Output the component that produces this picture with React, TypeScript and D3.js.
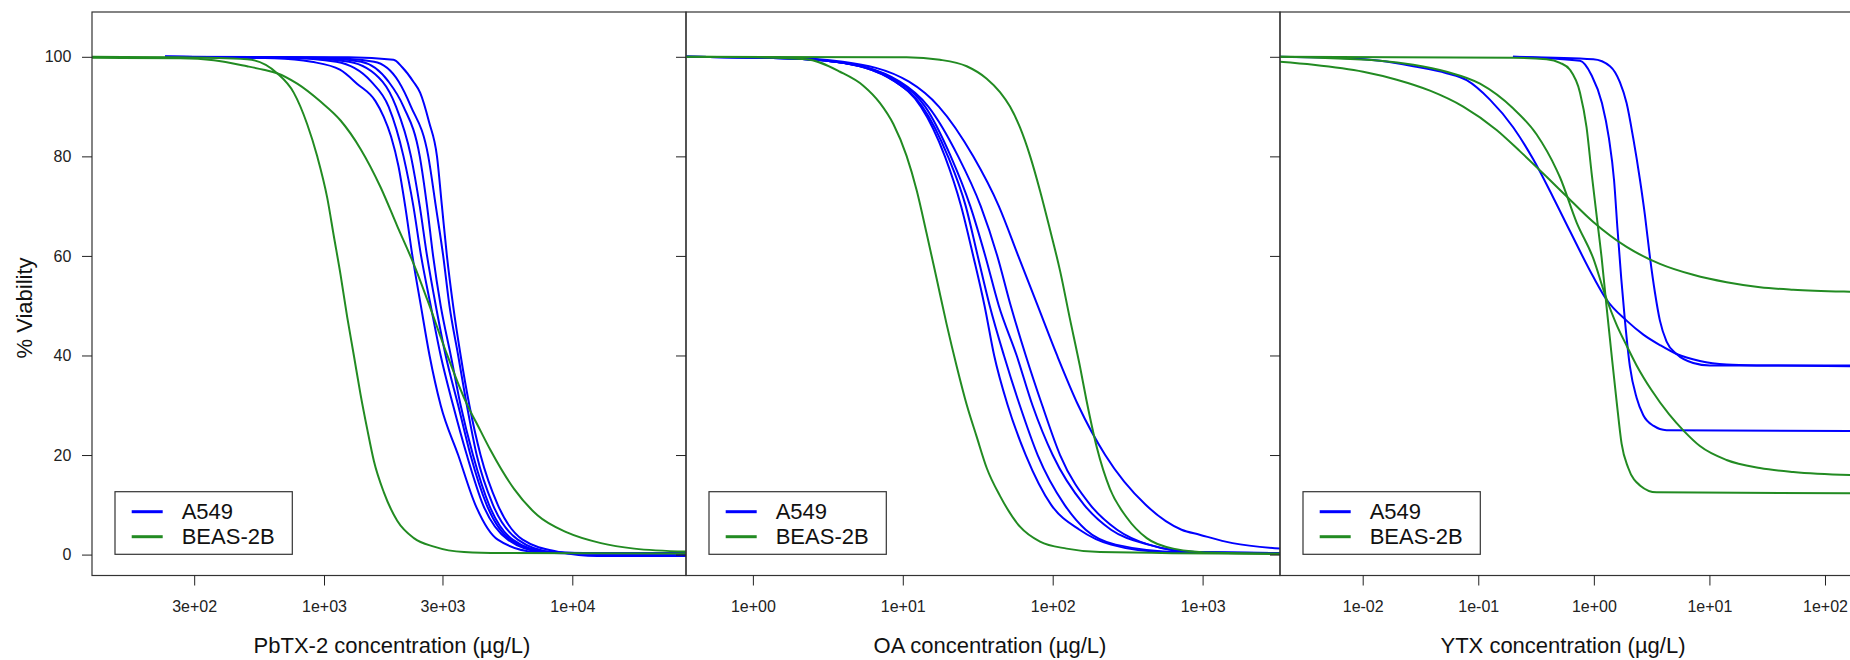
import React, { useRef, useEffect } from "react";
import * as d3 from "d3";

type Pt = [number, number];

const cellLines = ["A549", "BEAS-2B"];
const lineColors = ["#0000ff", "#228b22"];
const viabilityTicks = [0, 20, 40, 60, 80, 100];

// PbTX-2
const pbtxTitle = "PbTX-2 concentration (µg/L)";
const pbtxRange = [116.3, 28700];
const pbtxTicks = [300, 1000, 3000, 10000];
const pbtxTickLabels = ["3e+02", "1e+03", "3e+03", "1e+04"];
const pbtxA549: Pt[][] = [
  [[229, 100], [631, 99.7], [891, 99], [1159, 97.4], [1365, 94.5], [1611, 91.1], [1738, 88], [1862, 84], [1995, 78], [2123, 70], [2270, 60], [2455, 50], [2661, 40], [2950, 30], [3470, 20], [4070, 10], [5010, 3], [7080, 0.5], [10000, 0.2], [28700, 0.2]],
  [[229, 100], [708, 99.8], [1120, 99], [1550, 95], [1820, 90], [2090, 80], [2290, 70], [2460, 60], [2690, 50], [2950, 40], [3310, 30], [3760, 20], [4370, 10], [5500, 3], [7590, 0.5], [11200, 0.2], [28700, 0.2]],
  [[229, 100], [794, 99.8], [1260, 99], [1720, 95], [1950, 90], [2240, 80], [2430, 70], [2600, 60], [2820, 50], [3090, 40], [3470, 30], [3890, 20], [4520, 10], [5620, 3], [7760, 0.5], [11200, 0.3], [28700, 0.3]],
  [[229, 100], [891, 99.8], [1410, 99], [1820, 95], [2090, 90], [2430, 80], [2600, 70], [2750, 60], [2950, 50], [3240, 40], [3550, 30], [3980, 20], [4620, 10], [5750, 3], [7940, 0.5], [11200, 0.2], [28700, 0.2]],
  [[229, 100], [1000, 99.8], [1590, 99], [2000, 95], [2240, 90], [2630, 80], [2820, 70], [3020, 60], [3200, 50], [3470, 40], [3760, 30], [4120, 20], [4790, 10], [6030, 3], [8320, 0.5], [12600, 0.2], [28700, 0.2]],
  [[229, 100], [1260, 99.9], [1905, 99.4], [2065, 97.9], [2291, 95], [2438, 92.8], [2649, 86.9], [2851, 80], [2985, 70], [3126, 60], [3311, 50], [3550, 40], [3850, 30], [4270, 20], [5010, 10], [6310, 3], [8910, 0.5], [12600, -0.3], [28700, -0.3]],
];
const pbtxBeas: Pt[][] = [
  [[116.3, 100], [264, 99.9], [490, 99.5], [647, 96.7], [755, 92.8], [855, 86.5], [939, 80], [1030, 71.7], [1096, 63.9], [1166, 56.2], [1240, 47.7], [1319, 40], [1403, 32.2], [1493, 25.2], [1588, 18.8], [1742, 12.5], [1972, 6.8], [2301, 3.3], [2772, 1.6], [3664, 0.5], [5150, 0.3], [28700, 0.2]],
  [[116.3, 99.8], [264, 99.7], [360, 99.3], [490, 98.1], [571, 97.4], [647, 96.7], [780, 94.6], [968, 91], [1166, 87.2], [1403, 81.5], [1690, 73.8], [1972, 66], [2301, 58.3], [2606, 51.2], [3139, 40], [3664, 31.5], [4275, 24.8], [4692, 20.9], [5825, 13.2], [7240, 7.9], [9566, 4.4], [13040, 2.3], [17750, 1.2], [28700, 0.6]],
];

// OA
const oaTitle = "OA concentration (µg/L)";
const oaRange = [0.358, 3283];
const oaTicks = [1, 10, 100, 1000];
const oaTickLabels = ["1e+00", "1e+01", "1e+02", "1e+03"];
const oaA549: Pt[][] = [
  [[0.358, 100], [1.585, 99.7], [3.55, 99], [8.91, 95], [13.2, 90], [19.1, 80], [24.5, 70], [29.5, 60], [35.1, 50], [40.7, 40], [50.1, 30], [66.1, 20], [97.7, 10], [151, 5], [245, 2], [562, 0.5], [3283, 0.3]],
  [[0.358, 100], [1.585, 99.7], [3.55, 99], [8.91, 95], [13.5, 90], [20, 80], [26.3, 70], [31.6, 60], [38, 50], [47.3, 40], [60.3, 30], [79.4, 20], [120, 10], [166, 5], [263, 2], [708, 0.5], [3283, 0.3]],
  [[0.358, 100], [1.585, 99.7], [3.55, 99], [9.33, 95], [14.1, 90], [20.9, 80], [28.2, 70], [35.5, 60], [43.7, 50], [57.5, 40], [73.3, 30], [100, 20], [162, 10], [245, 5], [437, 2], [891, 0.5], [3283, 0.3]],
  [[0.358, 100], [1.585, 99.7], [3.55, 99], [9.55, 95], [14.8, 90], [23.4, 80], [33.1, 70], [42.7, 60], [52.5, 50], [66.1, 40], [85.1, 30], [112, 20], [178, 10], [269, 5], [437, 2], [891, 0.5], [3283, 0.3]],
  [[0.358, 100], [1.585, 99.8], [3.98, 99], [11, 95], [17.4, 90], [29.5, 80], [43.7, 70], [58.9, 60], [79.4, 50], [107, 40], [148, 30], [224, 20], [417, 10], [724, 5], [955, 4], [1585, 2.3], [3283, 1.2]],
];
const oaBeas: Pt[][] = [
  [[0.358, 100], [1, 99.9], [2.28, 99.5], [3.81, 97], [5.45, 94.2], [7.05, 90.7], [8.65, 86.5], [10.6, 80.1], [12.4, 73.1], [14.4, 64.6], [16.8, 55.5], [19.6, 46.3], [22.9, 37.8], [26.7, 30.1], [31.1, 23.7], [36.3, 17.4], [44.5, 11.8], [60.5, 5.6], [82.3, 2.6], [124, 1.2], [207, 0.5], [3283, 0.1]],
  [[0.358, 100], [10.6, 99.9], [17.7, 99.4], [26.7, 98.1], [36.3, 95.6], [44.5, 92.9], [51.9, 90], [60.5, 85.8], [70.6, 80.1], [82.3, 73.1], [95.9, 65.3], [112, 57], [130, 47.5], [152, 37.8], [168, 31], [197, 21.5], [241, 13.2], [311, 7.5], [424, 3.3], [638, 1.2], [1241, 0.35], [3283, 0.2]],
];

// YTX
const ytxTitle = "YTX concentration (µg/L)";
const ytxRange = [0.001925, 265.5];
const ytxTicks = [0.01, 0.1, 1, 10, 100];
const ytxTickLabels = ["1e-02", "1e-01", "1e+00", "1e+01", "1e+02"];
const ytxA549: Pt[][] = [
  [[0.001925, 100], [0.00726, 99.7], [0.0141, 99.2], [0.0274, 98.1], [0.0532, 96.7], [0.0793, 95.3], [0.126, 91.4], [0.201, 85.8], [0.299, 79.4], [0.446, 71.7], [0.621, 65], [0.989, 55.8], [1.29, 51.2], [1.92, 47], [2.68, 44.2], [3.73, 42.1], [5.2, 40.3], [8.28, 38.9], [14.1, 38.2], [27.4, 38], [265.5, 37.8]],
  [[0.1995, 100], [0.989, 99.5], [1.38, 98.1], [1.68, 94.9], [1.92, 90.7], [2.19, 83.7], [2.51, 75.2], [2.77, 68.1], [3.06, 59.7], [3.38, 52.6], [3.73, 47], [4.26, 42.8], [5.2, 40.3], [7.24, 38.5], [10.1, 38], [265.5, 38]],
  [[0.1995, 100], [0.759, 99.2], [0.955, 96.3], [1.175, 90.7], [1.349, 83.7], [1.496, 75.2], [1.603, 65.3], [1.726, 55.5], [1.858, 47], [2.051, 37.8], [2.344, 31.5], [2.679, 28], [3.266, 25.9], [4.256, 25], [265.5, 24.8]],
];
const ytxBeas: Pt[][] = [
  [[0.001925, 99], [0.00374, 98.4], [0.0101, 97], [0.0197, 95.4], [0.0382, 93.2], [0.0741, 90], [0.144, 85.3], [0.23, 81], [0.39, 75.9], [0.562, 72.3], [0.989, 66.8], [1.92, 61.8], [3.73, 58.4], [7.24, 56.2], [14.1, 54.7], [27.4, 53.7], [53.1, 53.2], [164, 52.8], [265.5, 52.7]],
  [[0.001925, 100], [0.201, 99.8], [0.39, 99.5], [0.509, 98.8], [0.621, 97.4], [0.759, 92.8], [0.865, 85.8], [0.957, 76.6], [1.057, 68.1], [1.167, 59.7], [1.288, 49.8], [1.426, 40], [1.574, 30.8], [1.738, 22.3], [1.986, 17.4], [2.506, 13.9], [3.491, 12.5], [265.5, 12.3]],
  [[0.001925, 100], [0.0141, 99.2], [0.0274, 98.4], [0.0532, 97], [0.1035, 94.6], [0.201, 89.6], [0.32, 84.4], [0.476, 77.3], [0.509, 75.8], [0.71, 66.7], [0.989, 59.5], [1.259, 52], [1.585, 46], [1.919, 42], [2.344, 38], [3.162, 33], [4.467, 28.2], [6.026, 24.8], [8.279, 21.8], [14.06, 19], [27.35, 17.4], [53.09, 16.6], [164.1, 16], [265.5, 15.9]],
];

const panels = [
  { title: pbtxTitle, range: pbtxRange, ticks: pbtxTicks, labels: pbtxTickLabels, a549: pbtxA549, beas: pbtxBeas },
  { title: oaTitle, range: oaRange, ticks: oaTicks, labels: oaTickLabels, a549: oaA549, beas: oaBeas },
  { title: ytxTitle, range: ytxRange, ticks: ytxTicks, labels: ytxTickLabels, a549: ytxA549, beas: ytxBeas },
];

const font = "'Liberation Sans', Arial, sans-serif";

export default function App() {
  const ref = useRef<SVGSVGElement | null>(null);

  useEffect(() => {
    if (!ref.current) return;
    const svg = d3.select(ref.current);
    svg.selectAll("*").remove();

    const top = 12;
    const bottom = 575.5;
    const panelW = 594;
    const lefts = [92, 686, 1280];
    const titleX = [392, 990, 1563];

    svg.append("rect").attr("width", 1850).attr("height", 660).attr("fill", "#fff");

    const y = d3.scaleLinear().domain([-4.2, 109]).range([bottom, top]);
    const defs = svg.append("defs");

    panels.forEach((p, i) => {
      const left = lefts[i];
      const x = d3.scaleLog().domain(p.range).range([left, left + panelW]);
      const g = svg.append("g");

      defs.append("clipPath").attr("id", `clip${i}`)
        .append("rect").attr("x", left).attr("y", top)
        .attr("width", panelW).attr("height", bottom - top);

      const line = d3.line<Pt>()
        .x((d) => x(d[0]))
        .y((d) => y(d[1]))
        .curve(d3.curveMonotoneX);

      const curves = g.append("g").attr("clip-path", `url(#clip${i})`);
      [p.a549, p.beas].forEach((set, k) => {
        set.forEach((c) => {
          curves.append("path")
            .datum(c)
            .attr("d", line)
            .attr("fill", "none")
            .attr("stroke", lineColors[k])
            .attr("stroke-width", 2);
        });
      });

      // frame
      g.append("rect")
        .attr("x", left).attr("y", top)
        .attr("width", panelW).attr("height", bottom - top)
        .attr("fill", "none").attr("stroke", "#333").attr("stroke-width", 1.2);

      // x axis
      const xa = g.append("g")
        .attr("transform", `translate(0,${bottom})`)
        .call(
          d3.axisBottom(x)
            .tickValues(p.ticks)
            .tickFormat((_, k) => p.labels[k])
            .tickSize(10)
            .tickPadding(15.6)
        );
      xa.select(".domain").remove();
      xa.attr("font-size", 16).attr("font-family", font).attr("color", "#222");

      // y axis (labels only on the first panel)
      const ya = g.append("g")
        .attr("transform", `translate(${left},0)`)
        .call(
          d3.axisLeft(y)
            .tickValues(viabilityTicks)
            .tickFormat((d) => (i === 0 ? String(d) : ""))
            .tickSize(10)
            .tickPadding(10.6)
        );
      ya.select(".domain").remove();
      ya.attr("font-size", 16).attr("font-family", font).attr("color", "#222");

      // x title
      g.append("text")
        .attr("x", titleX[i]).attr("y", 653)
        .attr("text-anchor", "middle")
        .attr("font-family", font).attr("font-size", 22).attr("fill", "#111")
        .text(p.title);

      // legend
      const lg = g.append("g").attr("transform", `translate(${left + 23},491.7)`);
      lg.append("rect")
        .attr("width", 177.3).attr("height", 62.6)
        .attr("fill", "#fff").attr("stroke", "#333").attr("stroke-width", 1.2);
      cellLines.forEach((name, k) => {
        lg.append("line")
          .attr("x1", 16.7).attr("x2", 47.7)
          .attr("y1", 20 + k * 25).attr("y2", 20 + k * 25)
          .attr("stroke", lineColors[k]).attr("stroke-width", 3);
        lg.append("text")
          .attr("x", 66.7).attr("y", 27.6 + k * 25)
          .attr("font-family", font).attr("font-size", 22).attr("fill", "#111")
          .text(name);
      });
    });

    svg.append("text")
      .attr("transform", "translate(31.5,308) rotate(-90)")
      .attr("text-anchor", "middle")
      .attr("font-family", font).attr("font-size", 22).attr("fill", "#111")
      .text("% Viability");
  }, []);

  return (
    <svg
      ref={ref}
      width={1850}
      height={660}
      style={{ position: "absolute", left: 0, top: 0, display: "block" }}
    />
  );
}
